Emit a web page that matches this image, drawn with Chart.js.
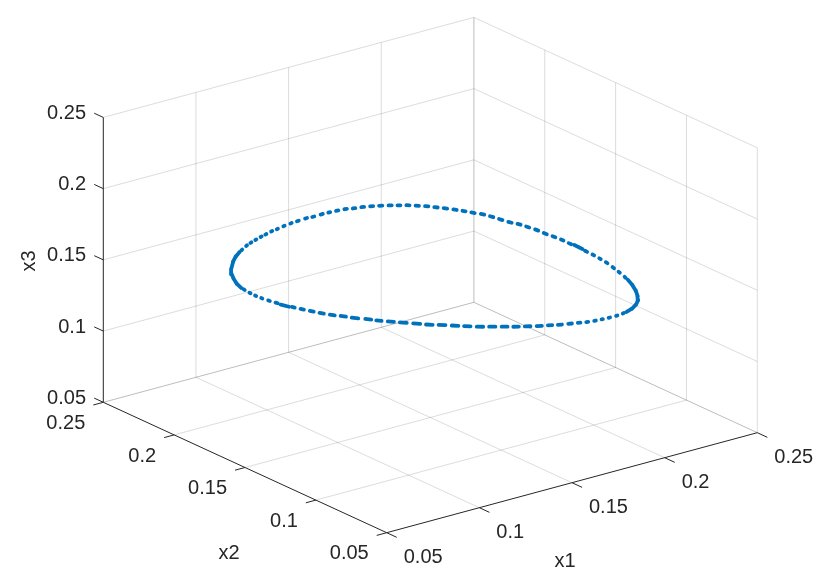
<!DOCTYPE html>
<html>
<head>
<meta charset="utf-8">
<style>html,body{margin:0;padding:0;background:#fff}canvas{display:block}</style>
<script src="https://cdn.jsdelivr.net/npm/chart.js@4"></script>
</head>
<body>
<canvas id="c" width="830" height="586"></canvas>
<script>
const tickValues = [0.05, 0.1, 0.15, 0.2, 0.25];
const tickLabels = ["0.05", "0.1", "0.15", "0.2", "0.25"];
const axisNames = ["x1", "x2", "x3"];

const x1 = [0.0847,0.0901,0.0950,0.0998,0.1044,0.1092,0.1129,0.1168,0.1208,0.1242,0.1284,0.1320,0.1365,0.1409,0.1449,0.1497,0.1533,0.1580,0.1620,0.1659,0.1700,
0.1734,0.1773,0.1809,0.1844,0.1879,0.1909,0.1940,0.1968,0.1996,0.2020,0.2045,0.2067,0.2088,0.2106,0.2127,0.2140,0.2150,
0.2161,0.2177,0.2187,0.2195,0.2197,0.2204,0.2208,0.2207,0.2211,0.2205,0.2203,0.2198,0.2191,0.2177,0.2163,0.2146,0.2126,0.2099,0.2067,0.2033,0.2005,
0.1959,0.1916,0.1874,0.1834,0.1794,0.1758,0.1723,0.1687,0.1654,0.1616,0.1574,0.1536,0.1494,0.1452,0.1410,0.1371,0.1329,0.1287,0.1247,0.1210,0.1171,0.1130,0.1094,0.1056,0.1021,0.0988,
0.0962,0.0926,0.0899,0.0871,0.0848,0.0829,0.0811,0.0796,0.0779,0.0771,0.0762,0.0755,0.0753,0.0754,0.0759,0.0770,0.0792,0.0822];
const x2 = [0.2052,0.2114,0.2164,0.2203,0.2234,0.2263,0.2281,0.2297,0.2312,0.2323,0.2337,0.2344,0.2356,0.2364,0.2368,0.2373,0.2369,0.2371,0.2370,0.2365,0.2359,
0.2344,0.2334,0.2318,0.2300,0.2279,0.2256,0.2233,0.2204,0.2174,0.2140,0.2106,0.2067,0.2031,0.1991,0.1951,0.1904,0.1853,
0.1802,0.1759,0.1711,0.1658,0.1600,0.1548,0.1495,0.1439,0.1385,0.1323,0.1269,0.1215,0.1159,0.1094,0.1034,0.0970,0.0909,0.0846,0.0785,0.0734,0.0700,
0.0663,0.0640,0.0627,0.0621,0.0621,0.0624,0.0629,0.0637,0.0651,0.0665,0.0682,0.0702,0.0723,0.0750,0.0777,0.0807,0.0839,0.0871,0.0908,0.0946,0.0987,0.1023,0.1065,0.1110,0.1152,0.1193,
0.1234,0.1281,0.1328,0.1369,0.1414,0.1459,0.1503,0.1546,0.1583,0.1631,0.1673,0.1715,0.1756,0.1797,0.1844,0.1896,0.1952,0.2010];
const x3 = [0.15,0.15,0.15,0.15,0.15,0.15,0.15,0.15,0.15,0.15,0.15,0.15,0.15,0.15,0.15,0.15,0.15,0.15,0.15,0.15,0.15,
0.15,0.15,0.15,0.15,0.15,0.15,0.15,0.15,0.15,0.15,0.15,0.15,0.15,0.15,0.15,0.15,0.15,
0.15,0.15,0.15,0.15,0.15,0.15,0.15,0.15,0.15,0.15,0.15,0.15,0.15,0.15,0.15,0.15,0.15,0.15,0.15,0.15,0.15,
0.15,0.15,0.15,0.15,0.15,0.15,0.15,0.15,0.15,0.15,0.15,0.15,0.15,0.15,0.15,0.15,0.15,0.15,0.15,0.15,0.15,0.15,0.15,0.15,0.15,0.15,
0.15,0.15,0.15,0.15,0.15,0.15,0.15,0.15,0.15,0.15,0.15,0.15,0.15,0.15,0.15,0.15,0.15,0.15];

// View of the 3D box on the page plane
const LO = 0.05, HI = 0.25, SPAN = HI - LO;
const view = { ox: 386.7, oy: 532.7, x1: [370.6, -100], x2: [-283.4, -130.4], x3: [0, -284.9] };
function project(a, b, c) {
  const u = (a - LO) / SPAN, v = (b - LO) / SPAN, w = (c - LO) / SPAN;
  return {
    x: view.ox + u * view.x1[0] + v * view.x2[0] + w * view.x3[0],
    y: view.oy + u * view.x1[1] + v * view.x2[1] + w * view.x3[1]
  };
}
const GRID = "rgba(38,38,38,0.16)", EDGE = "rgba(38,38,38,0.30)", INK = "#262626", CURVE = "#0072BD";
const seg = (p, q, color, width) => ({
  type: "scatter", showLine: true, data: [project(...p), project(...q)],
  borderColor: color, borderWidth: width, pointRadius: 0, pointHoverRadius: 0, fill: false, order: 5
});
const datasets = [];
const inner = tickValues.slice(1, -1);
// floor
inner.forEach(t => {
  datasets.push(seg([t, LO, LO], [t, HI, LO], GRID, 1));
  datasets.push(seg([LO, t, LO], [HI, t, LO], GRID, 1));
});
datasets.push(seg([HI, LO, LO], [HI, HI, LO], EDGE, 1));
datasets.push(seg([LO, HI, LO], [HI, HI, LO], EDGE, 1));
// back wall x2 = HI
inner.forEach(t => datasets.push(seg([t, HI, LO], [t, HI, HI], GRID, 1)));
datasets.push(seg([HI, HI, LO], [HI, HI, HI], EDGE, 1));
// back wall x1 = HI
inner.forEach(t => datasets.push(seg([HI, t, LO], [HI, t, HI], GRID, 1)));
datasets.push(seg([HI, LO, LO], [HI, LO, HI], GRID, 1));
// height lines on both walls
tickValues.slice(1).forEach(t => {
  datasets.push(seg([LO, HI, t], [HI, HI, t], GRID, 1));
  datasets.push(seg([HI, HI, t], [HI, LO, t], GRID, 1));
});
// axes and ticks
datasets.push(seg([LO, HI, LO], [LO, HI, HI], INK, 1));
datasets.push(seg([LO, HI, LO], [LO, LO, LO], INK, 1));
datasets.push(seg([LO, LO, LO], [HI, LO, LO], INK, 1));
const TICK1 = 0.0071, TICK2 = 0.0054, TICK3 = 0.0064;
tickValues.forEach(t => {
  datasets.push(seg([t, LO, LO], [t, LO - TICK1, LO], INK, 1));
  datasets.push(seg([LO, t, LO], [LO - TICK2, t, LO], INK, 1));
  datasets.push(seg([LO, HI, t], [LO, HI + TICK3, t], INK, 1));
});
// curve
const curve = x1.map((v, i) => project(v, x2[i], x3[i]));
const N = curve.length;
const nb = i => [curve[(i - 1 + N) % N], curve[(i + 1) % N]];
const turn = i => {
  const [p, q] = nb(i), c = curve[i];
  let a = Math.atan2(q.y - c.y, q.x - c.x) - Math.atan2(c.y - p.y, c.x - p.x);
  a = Math.abs(a);
  return a > Math.PI ? 2 * Math.PI - a : a;
};
datasets.unshift({
  type: "scatter", data: curve, order: 0, showLine: false,
  pointStyle: "line",
  pointBorderColor: CURVE, pointBackgroundColor: CURVE, pointBorderWidth: 3.8,
  pointRotation: c => { const [p, q] = nb(c.dataIndex); return Math.atan2(q.y - p.y, q.x - p.x) * 180 / Math.PI; },
  pointRadius: c => {
    const [p, q] = nb(c.dataIndex);
    const d = Math.hypot(q.x - p.x, q.y - p.y) / 2;
    return turn(c.dataIndex) > 0.13 ? d / 2 : Math.max(0.6, (d - 6) / 2);
  }
});

const labelsPlugin = {
  id: "boxLabels",
  beforeDatasetsDraw(chart) { chart.ctx.lineCap = "round"; },
  afterDatasetsDraw(chart) {
    const ctx = chart.ctx;
    ctx.save();
    ctx.lineCap = "butt";
    ctx.fillStyle = INK;
    ctx.font = "20px 'Liberation Sans', Arial, sans-serif";
    ctx.textBaseline = "middle";
    tickValues.forEach((t, i) => {
      let p = project(LO, HI, t);
      ctx.textAlign = "right";
      ctx.fillText(tickLabels[i], p.x - 17.3, p.y - 4);
      p = project(LO, t, LO);
      ctx.fillText(tickLabels[i], p.x - 18, p.y + 21.2);
      p = project(t, LO, LO);
      ctx.textAlign = "left";
      ctx.fillText(tickLabels[i], p.x + 17, p.y + 24.3);
    });
    ctx.textAlign = "center";
    ctx.fillText(axisNames[0], 565, 561.7);
    ctx.fillText(axisNames[1], 229, 553);
    ctx.translate(29.5, 261);
    ctx.rotate(-Math.PI / 2);
    ctx.fillText(axisNames[2], 0, 0);
    ctx.restore();
  }
};

new Chart(document.getElementById("c"), {
  type: "scatter",
  data: { datasets },
  plugins: [labelsPlugin],
  options: {
    responsive: false, animation: false, devicePixelRatio: 1,
    layout: { padding: 0, autoPadding: false },
    plugins: { legend: { display: false }, tooltip: { enabled: false } },
    events: [],
    scales: {
      x: { type: "linear", display: false, min: 0, max: 830 },
      y: { type: "linear", display: false, min: 0, max: 586, reverse: true }
    }
  }
});
</script>
</body>
</html>
